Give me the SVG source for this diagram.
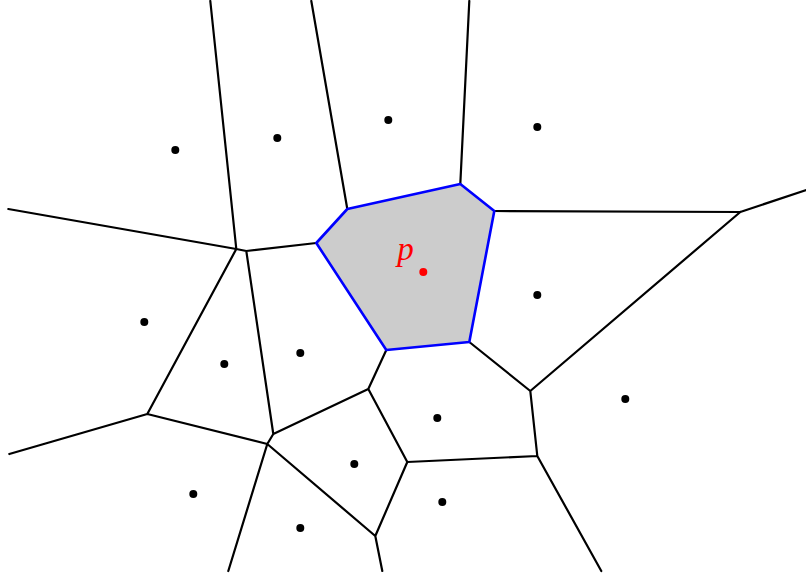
<svg xmlns="http://www.w3.org/2000/svg" width="806" height="576" viewBox="0 0 806 576">
<style>
.e{stroke:#000;stroke-width:2.2;fill:none;stroke-linejoin:round;stroke-linecap:round}
.s{fill:#000}
.cell{fill:#cccccc;stroke:#0000ff;stroke-width:2.6;stroke-linejoin:round}
.lbl{font-family:"Liberation Serif",serif;font-style:italic;font-size:33px;fill:#ff0000}
</style>
<rect width="806" height="576" fill="#fff"/>
<g transform="translate(0.3,1)">
<g id="edges">
<path class="e" d="M210,0 L236,248 M8,208 L236,248 L246,250 L316,242 M236,248 L147,413 M246,250 L273,433 M311,0 L347,208 M469,0 L460,183 M494,210 L740,211 L806,189 M740,211 L530,390 L469,341 M530,390 L537,455 L601,570 M537,455 L407,461 L368,388 L386,349 M407,461 L375,535 L382,570 M147,413 L9,453 M147,413 L267,443 L273,433 L368,388 M267,443 L228,570 M267,443 L375,535"/>
</g>
<g id="cell-p">
<polygon class="cell" points="347,208 460,183 494,210 469,341 386,349 316,242"/>
</g>
<g id="sites">
<circle class="s" cx="175" cy="149" r="4"/>
<circle class="s" cx="277" cy="137" r="4"/>
<circle class="s" cx="388" cy="119" r="4"/>
<circle class="s" cx="537" cy="126" r="4"/>
<circle class="s" cx="144" cy="321" r="4"/>
<circle class="s" cx="224" cy="363" r="4"/>
<circle class="s" cx="300" cy="352" r="4"/>
<circle class="s" cx="537" cy="294" r="4"/>
<circle class="s" cx="625" cy="398" r="4"/>
<circle class="s" cx="437" cy="417" r="4"/>
<circle class="s" cx="354" cy="463" r="4"/>
<circle class="s" cx="442" cy="501" r="4"/>
<circle class="s" cx="193" cy="493" r="4"/>
<circle class="s" cx="300" cy="527" r="4"/>
</g>
<g id="p">
<circle cx="423" cy="271" r="4" fill="#ff0000"/>
<text class="lbl" x="397" y="259">p</text>
</g>
</g>
</svg>
